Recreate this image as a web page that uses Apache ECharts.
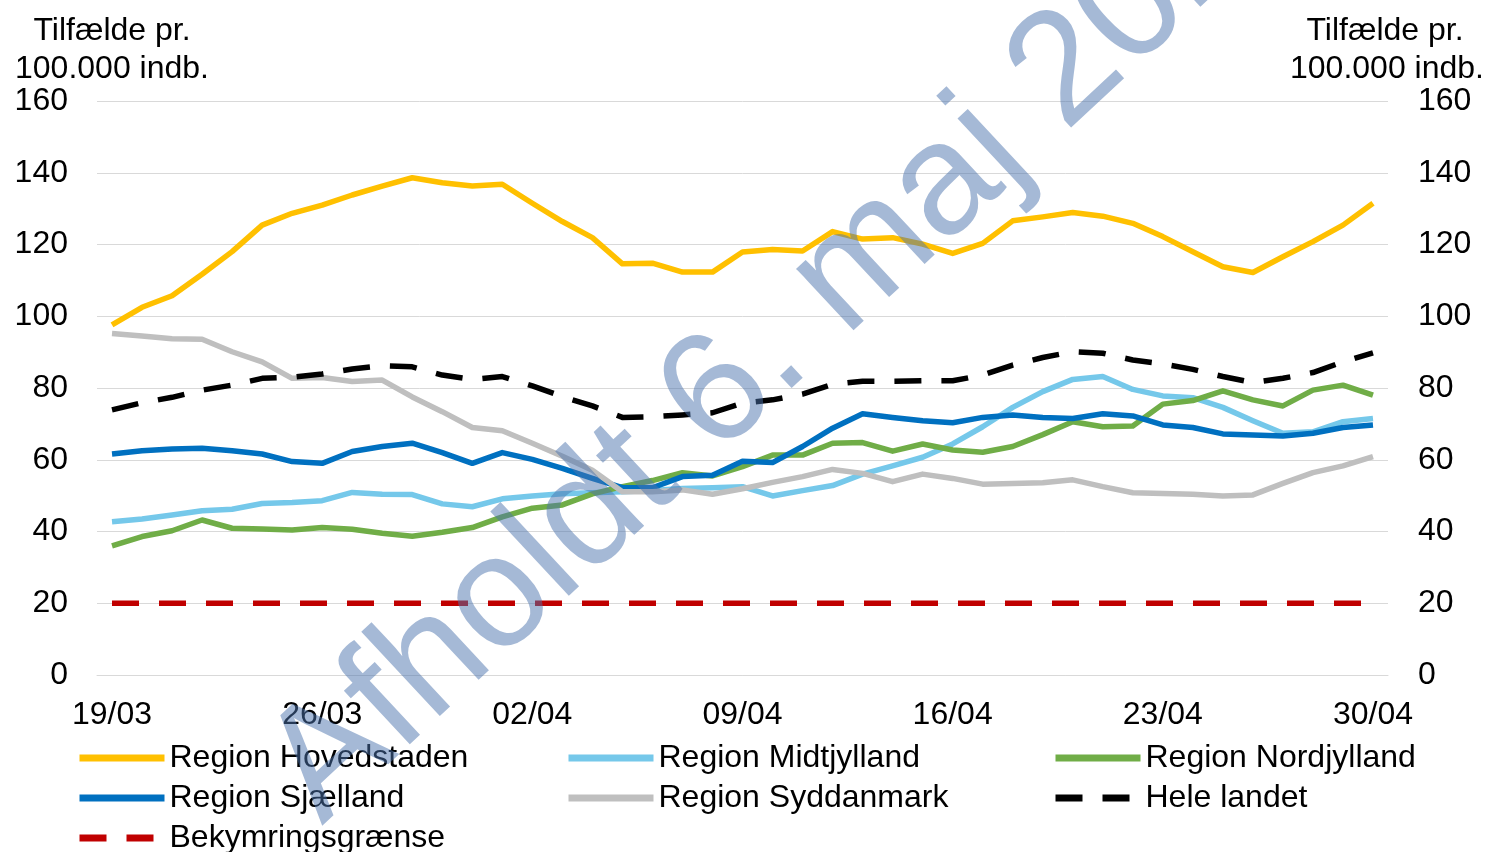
<!DOCTYPE html>
<html>
<head>
<meta charset="utf-8">
<script src="https://cdn.jsdelivr.net/npm/echarts@6/dist/echarts.min.js"></script>
<style>
html,body{margin:0;padding:0;background:#fff;}
#chart{width:1489px;height:852px;}
</style>
</head>
<body>
<div id="chart"></div>
<script>
const categories = ["19/03","20/03","21/03","22/03","23/03","24/03","25/03","26/03","27/03","28/03","29/03","30/03","31/03",
  "01/04","02/04","03/04","04/04","05/04","06/04","07/04","08/04","09/04","10/04","11/04","12/04","13/04","14/04","15/04",
  "16/04","17/04","18/04","19/04","20/04","21/04","22/04","23/04","24/04","25/04","26/04","27/04","28/04","29/04","30/04"];

const hovedstaden = [97.6,102.5,105.7,111.7,118.0,125.4,128.7,131.0,133.8,136.3,138.6,137.2,136.3,136.8,131.5,126.4,121.9,114.6,114.8,112.3,112.3,117.9,118.6,118.2,123.6,121.5,121.9,120.1,117.5,120.3,126.6,127.7,128.9,127.9,125.9,122.2,118.0,113.8,112.2,116.6,120.8,125.4,131.5];
const midtjylland = [42.7,43.5,44.6,45.8,46.2,47.8,48.1,48.6,50.9,50.4,50.3,47.7,46.9,49.1,49.9,50.5,50.8,51.1,51.4,52.0,52.2,52.5,49.9,51.4,52.8,56.0,58.3,60.7,64.4,69.2,74.6,79.0,82.4,83.2,79.6,77.8,77.3,74.6,70.9,67.4,67.8,70.6,71.5];
const nordjylland = [36.0,38.6,40.2,43.2,40.9,40.7,40.4,41.1,40.6,39.5,38.7,39.8,41.1,44.1,46.5,47.4,50.5,52.5,54.2,56.4,55.5,58.1,61.3,61.3,64.6,64.8,62.4,64.4,62.7,62.1,63.7,67.0,70.6,69.2,69.4,75.5,76.5,79.2,76.7,75.0,79.4,80.8,78.0];
const sjaelland = [61.6,62.5,63.0,63.2,62.5,61.6,59.5,59.0,62.3,63.7,64.6,62.0,59.0,62.0,60.1,57.6,54.8,52.2,52.2,55.3,55.7,59.6,59.2,63.7,68.8,72.8,71.8,70.9,70.3,71.8,72.5,71.8,71.5,72.8,72.2,69.7,69.0,67.2,66.9,66.6,67.4,69.0,69.7];
const syddanmark = [95.2,94.5,93.7,93.6,90.1,87.3,82.7,82.9,81.8,82.2,77.5,73.4,69.0,68.1,64.6,61.0,57.1,51.1,51.1,51.6,50.4,51.9,53.7,55.3,57.3,56.2,53.9,56.0,54.8,53.2,53.4,53.6,54.4,52.5,50.8,50.6,50.4,49.9,50.2,53.4,56.4,58.3,60.9];
const heleLandet = [73.9,75.9,77.4,79.4,80.8,82.7,83.0,83.9,85.3,86.2,85.9,83.6,82.4,83.2,80.6,77.6,75.0,71.8,72.0,72.5,73.1,75.8,76.7,78.3,81.0,81.9,81.9,82.0,82.0,83.6,86.4,88.5,90.1,89.7,87.8,86.7,85.2,83.2,81.5,82.7,84.3,87.3,89.8];
const bekymring = [20,20,20,20,20,20,20,20,20,20,20,20,20,20,20,20,20,20,20,20,20,20,20,20,20,20,20,20,20,20,20,20,20,20,20,20,20,20,20,20,20,20,20];

const yTicks = {min: 0, max: 160, interval: 20};

const FONT = "'Liberation Sans', Arial, sans-serif";
const chart = echarts.init(document.getElementById('chart'), null, {renderer: 'canvas'});

function lineSeries(name, data, color, dashed) {
  return {
    name: name, type: 'line', data: data, yAxisIndex: 0,
    symbol: 'none', smooth: false, animation: false,
    lineStyle: {color: color, width: 5.5, type: dashed ? [27, 20] : 'solid', cap: 'butt', join: 'round'},
    itemStyle: {color: color}
  };
}

const legendText = {fontSize: 32, fontFamily: FONT, color: '#000'};
function legendItem(left, top, name) {
  return {orient: 'horizontal', left: left, top: top, itemWidth: 85, itemHeight: 14, itemGap: 0,
    padding: 0, data: [name], textStyle: legendText, selectedMode: false,
    lineStyle: {width: 7}, itemStyle: {opacity: 0}};
}

const option = {
  backgroundColor: '#fff',
  animation: false,
  grid: {left: 97, right: 101, top: 101, bottom: 177},
  xAxis: {
    type: 'category', data: categories, boundaryGap: true,
    axisLine: {show: true, lineStyle: {color: '#d9d9d9', width: 1}},
    axisTick: {show: false},
    axisLabel: {interval: 6, fontSize: 32, fontFamily: FONT, color: '#000', margin: 24}
  },
  yAxis: [
    {type: 'value', position: 'left', min: yTicks.min, max: yTicks.max, interval: yTicks.interval,
      axisLine: {show: false}, axisTick: {show: false},
      axisLabel: {fontSize: 32, fontFamily: FONT, color: '#000', margin: 29},
      splitLine: {show: true, lineStyle: {color: '#d9d9d9', width: 1}}},
    {type: 'value', position: 'right', min: yTicks.min, max: yTicks.max, interval: yTicks.interval,
      axisLine: {show: false}, axisTick: {show: false},
      axisLabel: {fontSize: 32, fontFamily: FONT, color: '#000', margin: 30},
      splitLine: {show: false}}
  ],
  legend: [
    legendItem(76, 742, 'Region Hovedstaden'),
    legendItem(76, 782, 'Region Sjælland'),
    legendItem(76, 822, 'Bekymringsgrænse'),
    legendItem(565, 742, 'Region Midtjylland'),
    legendItem(565, 782, 'Region Syddanmark'),
    legendItem(1052, 742, 'Region Nordjylland'),
    legendItem(1052, 782, 'Hele landet')
  ],
  series: [
    lineSeries('Region Hovedstaden', hovedstaden, '#FFC000', false),
    lineSeries('Region Midtjylland', midtjylland, '#75C8EA', false),
    lineSeries('Region Nordjylland', nordjylland, '#70AD47', false),
    lineSeries('Region Sjælland', sjaelland, '#0070C0', false),
    lineSeries('Region Syddanmark', syddanmark, '#BFBFBF', false),
    lineSeries('Hele landet', heleLandet, '#000000', true),
    lineSeries('Bekymringsgrænse', bekymring, '#C00000', true)
  ],
  graphic: [
    {type: 'text', x: 112, y: 31, style: {text: 'Tilfælde pr.', fontSize: 32, fontFamily: FONT, fill: '#000', textAlign: 'center', textVerticalAlign: 'middle'}},
    {type: 'text', x: 112, y: 69, style: {text: '100.000 indb.', fontSize: 32, fontFamily: FONT, fill: '#000', textAlign: 'center', textVerticalAlign: 'middle'}},
    {type: 'text', x: 1385, y: 31, style: {text: 'Tilfælde pr.', fontSize: 32, fontFamily: FONT, fill: '#000', textAlign: 'center', textVerticalAlign: 'middle'}},
    {type: 'text', x: 1387, y: 69, style: {text: '100.000 indb.', fontSize: 32, fontFamily: FONT, fill: '#000', textAlign: 'center', textVerticalAlign: 'middle'}},
    {type: 'text', x: 292, y: 794, rotation: 43 * Math.PI / 180, z: 100,
      style: {text: 'Afholdt 6. maj 2020', fontSize: 159, fontFamily: FONT, fill: 'rgba(75,115,173,0.5)', textAlign: 'left', textVerticalAlign: 'middle'}}
  ]
};
chart.setOption(option);
</script>
</body>
</html>
